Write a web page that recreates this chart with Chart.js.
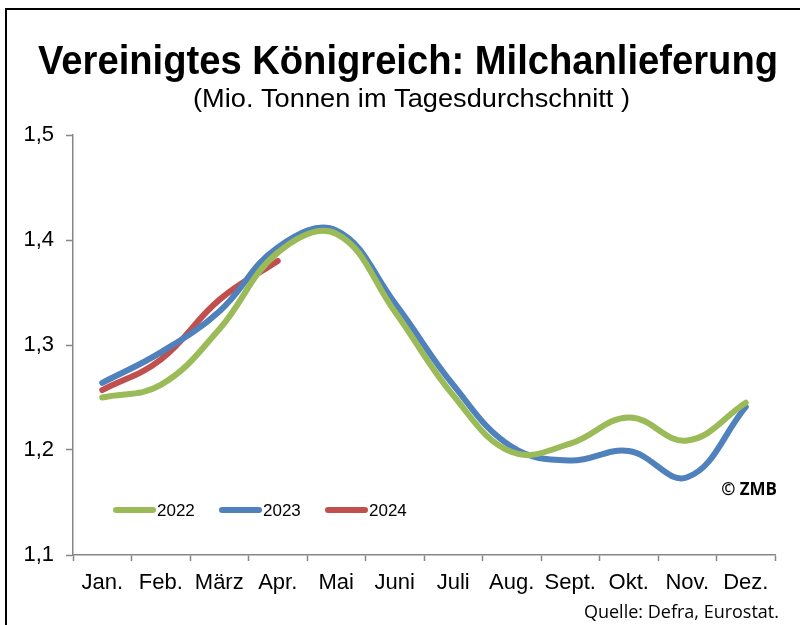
<!DOCTYPE html>
<html>
<head>
<meta charset="utf-8">
<script src="https://cdn.jsdelivr.net/npm/chart.js@4/dist/chart.umd.min.js"></script>
<style>
html,body{margin:0;padding:0;background:#fff;}
#wrap{width:800px;height:625px;position:relative;}
</style>
</head>
<body>
<div id="wrap"><canvas id="c" width="800" height="625"></canvas></div>
<script>
const titleText = 'Vereinigtes Königreich: Milchanlieferung';
const subtitleText = '(Mio. Tonnen im Tagesdurchschnitt )';
const months = ['Jan.','Feb.','März','Apr.','Mai','Juni','Juli','Aug.','Sept.','Okt.','Nov.','Dez.'];
const values2022 = [1.250, 1.262, 1.315, 1.388, 1.406, 1.332, 1.252, 1.198, 1.206, 1.231, 1.209, 1.245];
const values2023 = [1.264, 1.293, 1.332, 1.393, 1.409, 1.340, 1.262, 1.203, 1.190, 1.199, 1.174, 1.241];
const values2024 = [1.257, 1.286, 1.343, 1.380, null, null, null, null, null, null, null, null];
const seriesLabels = ['2022','2023','2024'];
const yTickLabels = {1.1:'1,1', 1.2:'1,2', 1.3:'1,3', 1.4:'1,4', 1.5:'1,5'};

const FONT = "'Liberation Sans', Arial, sans-serif";

function fitText(ctx, text, cx, baseline, targetW, scaleY) {
  const w = ctx.measureText(text).width;
  ctx.save();
  ctx.translate(cx, baseline);
  ctx.scale(targetW / w, scaleY);
  ctx.textAlign = 'center';
  ctx.fillText(text, 0, 0);
  ctx.restore();
}

const decor = {
  id: 'decor',
  afterDraw(chart) {
    const ctx = chart.ctx;
    ctx.save();
    // frame
    ctx.strokeStyle = '#000';
    ctx.lineWidth = 2;
    ctx.beginPath();
    ctx.moveTo(6, 625); ctx.lineTo(6, 9); ctx.lineTo(800, 9);
    ctx.stroke();
    // title
    ctx.fillStyle = '#000';
    ctx.textBaseline = 'alphabetic';
    ctx.font = 'bold 40px ' + FONT;
    fitText(ctx, titleText, 408, 74, 740, 1.0);
    ctx.font = '25px ' + FONT;
    fitText(ctx, subtitleText, 411.5, 107, 437, 1.0);
    // legend
    const ly = 510;
    const starts = [113, 219, 325];
    chart.data.datasets.forEach((ds, i) => {
      ctx.strokeStyle = ds.borderColor;
      ctx.lineWidth = 6;
      ctx.lineCap = 'round';
      ctx.beginPath();
      ctx.moveTo(starts[i] + 3, ly); ctx.lineTo(starts[i] + 40, ly);
      ctx.stroke();
      ctx.fillStyle = '#000';
      ctx.font = '17px ' + FONT;
      ctx.textAlign = 'left';
      ctx.textBaseline = 'middle';
      ctx.fillText(ds.label, starts[i] + 44, ly + 1);
    });
    // copyright
    ctx.font = 'bold 17px ' + "'Open Sans', " + FONT;
    ctx.textAlign = 'right';
    ctx.textBaseline = 'middle';
    ctx.fillText('© ZMB', 777, 490);
    // source
    ctx.font = '18px ' + "'Open Sans', " + FONT;
    ctx.fillText('Quelle: Defra, Eurostat.', 779, 613);
    ctx.restore();
  }
};

const mk = (label, data, color) => ({
  label, data,
  borderColor: color,
  backgroundColor: color,
  borderWidth: 6,
  pointRadius: 0,
  pointHoverRadius: 0,
  tension: 0.4,
  fill: false,
  spanGaps: false,
  borderCapStyle: 'round',
  borderJoinStyle: 'round'
});

new Chart(document.getElementById('c'), {
  type: 'line',
  data: {
    labels: months,
    datasets: [
      mk(seriesLabels[0], values2022, '#9BBB59'),
      mk(seriesLabels[1], values2023, '#4F81BD'),
      mk(seriesLabels[2], values2024, '#C0504D')
    ]
  },
  options: {
    responsive: false,
    animation: false,
    devicePixelRatio: 1,
    layout: { padding: { left: 0, right: 25, top: 135, bottom: 0 } },
    plugins: { legend: { display: false }, title: { display: false }, tooltip: { enabled: false } },
    scales: {
      x: {
        offset: true,
        grid: { offset: true, drawOnChartArea: false, drawTicks: true, tickLength: 6, color: '#868686', tickWidth: 1.5 },
        border: { color: '#868686', width: 1.5 },
        ticks: { color: '#000', font: { family: FONT, size: 22 }, padding: 9, maxRotation: 0, autoSkip: false },
        afterFit(s) { s.height = 70; }
      },
      y: {
        min: 1.1, max: 1.5,
        grid: { drawOnChartArea: false, drawTicks: true, tickLength: 7, color: '#868686', tickWidth: 1.5 },
        border: { color: '#868686', width: 1.5 },
        ticks: {
          stepSize: 0.1,
          color: '#000',
          font: { family: FONT, size: 22 },
          padding: 12,
          callback: (v) => yTickLabels[Math.round(v * 10) / 10] || ''
        },
        afterFit(s) { s.width = 73; }
      }
    }
  },
  plugins: [decor]
});
</script>
</body>
</html>
